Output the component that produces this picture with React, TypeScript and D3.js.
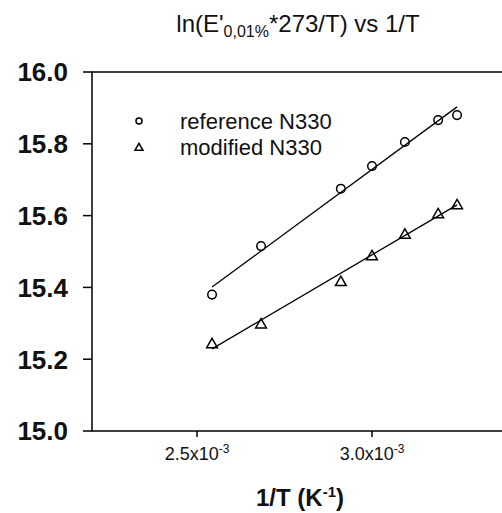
import React from 'react';
import * as d3 from 'd3';

// data (1/T in K^-1, ln(E'*273/T))
const invT = [2.543e-3, 2.683e-3, 2.911e-3, 3.0e-3, 3.094e-3, 3.189e-3, 3.243e-3];
const referenceN330 = [15.38, 15.515, 15.675, 15.738, 15.805, 15.866, 15.88];
const modifiedN330 = [15.245, 15.3, 15.418, 15.49, 15.55, 15.607, 15.632];
const seriesNames = ['reference N330', 'modified N330'];
const yTicks = [15.0, 15.2, 15.4, 15.6, 15.8, 16.0];
const xTicks = [2.5e-3, 3.0e-3];
const xTickLabels = ['2.5', '3.0'];

const W = 502;
const H = 513;

// least squares fit
function fit(xs: number[], ys: number[]) {
  const mx = d3.mean(xs) as number;
  const my = d3.mean(ys) as number;
  const sxy = d3.sum(xs, (x, i) => (x - mx) * (ys[i] - my));
  const sxx = d3.sum(xs, x => (x - mx) * (x - mx));
  const b = sxy / sxx;
  return (x: number) => my + b * (x - mx);
}

export default function App() {
  const x = d3.scaleLinear().domain([2.2e-3, 3.4e-3]).range([92, 512]);
  const y = d3.scaleLinear().domain([15.0, 16.0]).range([431, 72]);
  const font = 'Liberation Sans, Arial, sans-serif';

  const line = d3
    .line<number[]>()
    .x(d => x(d[0]))
    .y(d => y(d[1]));

  const xExt = d3.extent(invT) as [number, number];
  const series = [referenceN330, modifiedN330].map(vals => {
    const f = fit(invT, vals);
    return { vals, path: line([[xExt[0], f(xExt[0])], [xExt[1], f(xExt[1])]]) };
  });

  const tri = (size: number) => d3.symbol(d3.symbolTriangle, size)() as string;

  const marker = (k: number, cx: number, cy: number, small: boolean, key: any) =>
    k === 0 ? (
      <circle key={key} cx={cx} cy={cy} r={small ? 3 : 4.3} fill="none" stroke="#000" strokeWidth={1.5} />
    ) : (
      <path key={key} d={tri(small ? 28 : 50)} transform={`translate(${cx},${cy + (small ? 1 : 1.5)})`} fill="none" stroke="#000" strokeWidth={1.5} />
    );

  return (
    <svg width={W} height={H} style={{ position: 'absolute', left: 0, top: 0, background: '#fff' }} fontFamily={font}>
      {/* title */}
      <text x={298} y={32} textAnchor="middle" fontSize={24} fill="#111">
        ln(E'<tspan fontSize={16} dy={5}>0,01%</tspan>
        <tspan dy={-5}>*273/T) vs 1/T</tspan>
      </text>

      {/* frame */}
      <path d={`M${x.range()[1]},${y(16)}H${x(2.2e-3)}V${y(15)}H${x.range()[1]}`} fill="none" stroke="#000" strokeWidth={1.5} />

      {/* y axis */}
      {yTicks.map(t => (
        <g key={t}>
          <line x1={x(2.2e-3) - 9} x2={x(2.2e-3)} y1={y(t)} y2={y(t)} stroke="#000" strokeWidth={1.5} />
          <text x={68} y={y(t)} dy="0.36em" textAnchor="end" fontSize={26} fontWeight="bold" fill="#111">
            {t.toFixed(1)}
          </text>
        </g>
      ))}

      {/* x axis */}
      {xTicks.map((t, i) => (
        <g key={t}>
          <line x1={x(t)} x2={x(t)} y1={y(15)} y2={y(15) + 6} stroke="#000" strokeWidth={1.5} />
          <text x={x(t)} y={460} textAnchor="middle" fontSize={18} fill="#111">
            {xTickLabels[i]}x10<tspan fontSize={12} dy={-7}>-3</tspan>
          </text>
        </g>
      ))}
      <text x={300} y={506} textAnchor="middle" fontSize={24} fontWeight="bold" fill="#111">
        1/T (K<tspan fontSize={15} dy={-9}>-1</tspan>
        <tspan dy={9}>)</tspan>
      </text>

      {/* fit lines and points */}
      {series.map((s, k) => (
        <g key={k}>
          <path d={s.path as string} fill="none" stroke="#000" strokeWidth={1.3} />
          {s.vals.map((v, i) => marker(k, x(invT[i]), y(v), false, i))}
        </g>
      ))}

      {/* legend */}
      {seriesNames.map((name, k) => (
        <g key={name}>
          {marker(k, 139, 121 + k * 26, true, 'm')}
          <text x={180} y={121 + k * 26} dy="0.36em" fontSize={22} fill="#111">
            {name}
          </text>
        </g>
      ))}
    </svg>
  );
}
